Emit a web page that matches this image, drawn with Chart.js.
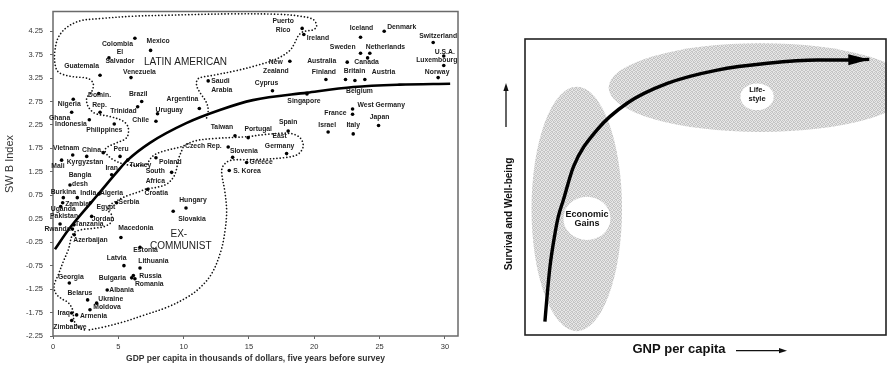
<!DOCTYPE html>
<html>
<head>
<title>Subjective well-being and GDP per capita</title>
<script src="https://cdn.jsdelivr.net/npm/chart.js"></script>
<style>
  body { margin: 0; background: #fff; }
  #left { position: absolute; left: 0; top: 0; width: 470px; height: 365px; }
  #right { position: absolute; left: 470px; top: 0; width: 417px; height: 365px; }
</style>
</head>
<body>
<div id="left"><canvas id="swbChart"></canvas></div>
<div id="right"><canvas id="gnpChart"></canvas></div>
<script>
// ---- left chart: countries (label text), GDP per capita ($1000s), SWB index
const countries = [
  'Colombia', 'Mexico', 'El\nSalvador', 'Guatemala', 'Venezuela', '', 'Domin.\nRep.', 'Nigeria', 'Ghana', 'Indonesia',
  'Brazil', 'Trinidad', 'Uruguay', 'Chile', 'Philippines', 'Argentina', 'Puerto\nRico', 'Ireland', 'New\nZealand', 'Saudi\nArabia',
  'Cyprus', 'Singapore', 'Iceland', 'Denmark', 'Switzerland', 'Sweden', 'Netherlands', 'Canada', 'Australia', 'Finland',
  'Britain', 'Belgium', 'Austria', 'U.S.A.', 'Luxembourg', 'Norway', 'West Germany', 'France', 'Japan', 'Israel',
  'Italy', 'Taiwan', 'Portugal', 'Spain', 'Czech Rep.', 'Slovenia', 'Greece', 'East\nGermany', 'S. Korea', 'Hungary',
  'Slovakia', 'Vietnam', 'Mali', 'Kyrgyzstan', 'China,', 'Peru', 'Turkey', 'Iran', 'Bangla\ndesh', 'Poland',
  'South\nAfrica', 'Croatia', 'Burkina', 'India', 'Algeria', 'Egypt', 'Serbia', 'Zambia', 'Uganda', 'Pakistan',
  'Jordan', 'Tanzania', 'Rwanda', 'Azerbaijan', 'Macedonia', 'Estonia', 'Latvia', 'Lithuania', 'Bulgaria', 'Russia',
  'Romania', 'Georgia', 'Albania', 'Belarus', 'Ukraine', 'Moldova', 'Iraq', 'Armenia', 'Zimbabwe'
];
const gdp = [
  6.27, 7.47, 4.28, 3.60, 5.97, 3.50, 3.60, 1.55, 1.43, 2.78,
  6.79, 6.48, 8.00, 7.88, 4.69, 11.20, 19.07, 19.20, 18.13, 11.88,
  16.80, 19.44, 23.54, 25.35, 29.10, 23.54, 24.25, 24.08, 22.52, 20.89,
  22.39, 23.11, 23.87, 29.91, 29.91, 29.48, 22.93, 22.93, 24.92, 21.06,
  22.98, 13.93, 14.94, 18.00, 13.41, 13.75, 14.82, 17.88, 13.49, 10.18,
  9.20, 1.51, 0.66, 2.58, 3.85, 5.13, 5.71, 4.49, 1.30, 7.88,
  9.08, 7.25, 0.79, 1.86, 3.52, 2.87, 4.87, 0.74, 0.59, 0.54,
  2.96, 1.61, 1.49, 1.63, 5.20, 6.66, 5.43, 6.66, 6.02, 6.15,
  6.27, 1.25, 4.15, 2.65, 3.34, 2.83, 1.43, 1.81, 1.43
];
const swb = [
  4.10, 3.84, 3.68, 3.31, 3.26, 2.92, 2.52, 2.80, 2.52, 2.36,
  2.75, 2.64, 2.49, 2.33, 2.27, 2.60, 4.31, 4.18, 3.61, 3.19,
  2.98, 2.91, 4.12, 4.25, 4.01, 3.78, 3.78, 3.68, 3.59, 3.22,
  3.22, 3.20, 3.22, 3.72, 3.52, 3.26, 2.59, 2.48, 2.24, 2.10,
  2.06, 2.02, 1.98, 2.12, 1.78, 1.56, 1.45, 1.64, 1.28, 0.48,
  0.41, 1.61, 1.50, 1.58, 1.66, 1.58, 1.50, 1.19, 0.97, 1.55,
  1.24, 0.88, 0.70, 0.70, 0.78, 0.59, 0.59, 0.59, 0.51, 0.14,
  0.30, 0.12, 0.03, -0.09, -0.15, -0.36, -0.75, -0.80, -1.01, -0.96,
  -1.03, -1.12, -1.27, -1.48, -1.55, -1.69, -1.76, -1.80, -1.92
];

// fitted curve
const fitX = [0.15, 1.17, 2.9, 3.6, 4.87, 5.71, 7.42, 10.2, 12.77, 15.3, 19.46, 23.0, 26.5, 30.4];
const fitY = [-0.4, 0.01, 0.59, 0.82, 1.24, 1.5, 1.87, 2.29, 2.57, 2.78, 2.94, 3.06, 3.11, 3.13];

// dotted zone boundaries
const zoneAX = [11.76, 11.88, 11.71, 11.30, 10.99, 11.12, 12.26, 14.06, 15.59, 17.12, 18.13, 18.52, 18.77, 19.15, 19.92, 20.18, 19.92, 18.90, 17.37, 13.54,
  8.70, 6.14, 3.60, 2.07, 1.05, 0.41, 0.15, 0.15, 0.41, 1.30, 2.70, 3.08, 2.96, 2.58, 2.70, 3.21, 4.36, 5.38, 5.76, 5.64,
  4.87, 4.11, 3.98, 4.23, 4.74, 5.51, 6.27, 7.17, 7.42, 7.80, 8.57, 9.85, 10.86, 12.26, 14.82, 16.35, 18.13, 18.90, 19.15, 18.77,
  17.88, 16.09, 14.82, 13.54, 13.03, 12.91, 13.16, 13.29, 13.16, 12.85, 12.17, 11.25, 10.23, 8.70, 6.91, 5.38, 3.85, 2.58];
const zoneAY = [2.40, 2.57, 2.75, 2.92, 3.10, 3.24, 3.31, 3.41, 3.52, 3.66, 3.84, 4.01, 4.15, 4.24, 4.28, 4.36, 4.50, 4.57, 4.61, 4.62,
  4.59, 4.57, 4.52, 4.47, 4.33, 4.12, 3.84, 3.56, 3.38, 3.29, 3.24, 3.13, 2.96, 2.82, 2.64, 2.50, 2.43, 2.33, 2.19, 1.98,
  1.87, 1.77, 1.70, 1.59, 1.49, 1.41, 1.39, 1.41, 1.52, 1.62, 1.70, 1.79, 1.91, 1.96, 2.00, 2.05, 2.07, 1.98, 1.80, 1.63,
  1.56, 1.52, 1.51, 1.49, 1.38, 1.24, 0.82, 0.40, -0.02, -0.44, -0.91, -1.22, -1.43, -1.64, -1.81, -1.95, -2.06, -2.13];
const zoneBX = [9.95, 9.56, 9.46, 9.20, 8.70, 7.93, 7.17, 6.53, 5.76, 5.26, 4.74, 4.36, 4.23, 4.49, 4.49, 3.98, 3.21, 2.07, 1.53,
  1.17, 0.79, 0.41, 0.08, 0.23, 0.69, 1.17, 1.53, 1.61, 2.07, 2.58];
const zoneBY = [1.77, 1.49, 1.31, 1.13, 0.99, 0.92, 0.89, 0.82, 0.75, 0.69, 0.61, 0.54, 0.43, 0.33, 0.19, 0.09, 0.05, 0.01, -0.07,
  -0.41, -0.66, -0.94, -1.18, -1.35, -1.46, -1.54, -1.71, -1.92, -2.09, -2.13];

const zoneNames = ['LATIN AMERICAN', 'EX-', 'COMMUNIST'];
const yTicks = [4.25, 3.75, 3.25, 2.75, 2.25, 1.75, 1.25, 0.75, 0.25, -0.25, -0.75, -1.25, -1.75, -2.25];
const xTicks = [0, 5, 10, 15, 20, 25, 30];

// ---- right chart: schematic curve and shaded zones (0-100 units)
const gnpX = [5.5, 6.0, 6.9, 8.3, 9.2, 10.6, 13.4, 19.9, 28.2, 39.3, 53.1, 67.0, 80.8, 90.0, 95.1];
const wellY = [4.5, 11.8, 23.1, 34.4, 40.0, 45.6, 56.9, 69.3, 78.3, 85.0, 89.5, 91.8, 92.9, 92.9, 93.1];
const shadeCx = [14.3, 65.1], shadeCy = [42.6, 83.6], shadeRx = [12.5, 42.0], shadeRy = [41.3, 15.0];
const blobNames = ['Economic\nGains', 'Life-\nstyle'];
const blobCx = [17.1, 64.1], blobCy = [39.4, 80.5], blobRx = [6.5, 4.6], blobRy = [7.3, 4.5];

// label placement: [align, dx, dy] in px from the dot
const labelAt = [
  ['r',-2,6], ['l',-4,-9], ['c',11,-6], ['r',-1,-9], ['l',-8,-6], null, ['c',-0.5,-17], ['c',-4,5], ['r',-1.5,6], ['r',-2.5,4],
  ['c',-3.5,-7], ['r',-1,4], ['l',-2,-3.5], ['r',-7,-1], ['c',-10,6], ['r',-1,-9], ['c',-19,-7.5], ['l',3,4], ['c',-14,1], ['l',3,0],
  ['c',-6,-8], ['c',-3,7], ['c',1,-9], ['l',3,-4], ['c',5,-6], ['r',-5,-6], ['l',-4,-6], ['c',-1,4], ['r',-11,-1], ['c',-2,-7],
  ['c',9,-8], ['c',4.5,10.5], ['l',7,-7], ['c',1,-4], ['c',-7,-5], ['c',-1,-6], ['l',5,-4], ['r',-6,-1], ['c',1,-8], ['c',-1,-7],
  ['c',0,-9], ['c',-13,-9], ['c',10,-9], ['c',0,-9], ['r',-6.5,-1], ['l',-2.7,-6.7], ['l',3,0], ['c',-7,-17], ['l',4,1], ['c',7,-8],
  ['l',5,8], ['l',-19.7,-7], ['c',-3.7,6], ['c',-1.7,6], ['r',-0.5,-3], ['c',1,-7], ['l',2,4.6], ['c',0,-7], ['c',10,-10], ['l',3,4],
  ['r',-6.7,-1], ['c',8.5,4], ['c',0,-6], ['l',3,-5], ['l',1,-1], ['l',6,4], ['l',2,-1], ['l',2.5,1], ['c',2.5,3], ['c',4,-8],
  ['l',0,3], ['l',1,-1], ['r',-2,0], ['l',-1,5], ['l',-2.7,-9], ['l',-6.7,3], ['c',-7.3,-7.6], ['l',-1.7,-7], ['r',-5.7,0], ['l',6,1],
  ['l',0,5], ['c',1.5,-5.6], ['l',2,0], ['c',-7.7,-6.7], ['l',1.6,-4], ['l',3.3,-2.6], ['r',-1.7,0], ['l',3.3,1.4], ['c',-1.7,6.7]
];
const zoneLabelX = [10.14, 9.63, 9.78], zoneLabelY = [3.58, -0.07, -0.34];

const FONT = '"Liberation Sans", Arial, Helvetica, sans-serif';
const ALIGN = { l: 'left', r: 'right', c: 'center' };
const pts = (xs, ys) => xs.map((v, i) => ({ x: v, y: ys[i] }));

const dotted = {
  showLine: true, pointRadius: 0, borderColor: '#111', borderWidth: 1.7,
  borderDash: [0.01, 3.3], borderCapStyle: 'round', tension: 0.35, fill: false
};

const swbDecor = {
  id: 'swbDecor',
  afterDatasetsDraw(chart) {
    const { ctx, chartArea: a, scales: { x, y } } = chart;
    ctx.save();
    ctx.strokeStyle = '#6a6a6a';
    ctx.lineWidth = 1.5;
    ctx.strokeRect(a.left, a.top, a.right - a.left, a.bottom - a.top);

    ctx.fillStyle = '#1c1c1c';
    ctx.font = 'bold 6.8px ' + FONT;
    ctx.textBaseline = 'middle';
    countries.forEach((name, i) => {
      if (!name) return;
      const [al, dx, dy] = labelAt[i];
      ctx.textAlign = ALIGN[al];
      const px = x.getPixelForValue(gdp[i]) + dx;
      const py = y.getPixelForValue(swb[i]) + dy;
      name.split('\n').forEach((line, k) => ctx.fillText(line, px, py + k * 9.3));
    });

    ctx.font = '10px ' + FONT;
    ctx.textAlign = 'center';
    zoneNames.forEach((n, i) => ctx.fillText(n, x.getPixelForValue(zoneLabelX[i]), y.getPixelForValue(zoneLabelY[i])));

    ctx.fillStyle = '#333';
    ctx.font = '11px ' + FONT;
    ctx.translate(10, 164);
    ctx.rotate(-Math.PI / 2);
    ctx.fillText('SW B Index', 0, 0);
    ctx.restore();
  }
};

new Chart(document.getElementById('swbChart'), {
  type: 'scatter',
  data: {
    datasets: [
      { data: pts(fitX, fitY), showLine: true, pointRadius: 0, borderColor: '#000', borderWidth: 2.6,
        cubicInterpolationMode: 'monotone', fill: false },
      { data: pts(zoneAX, zoneAY), ...dotted },
      { data: pts(zoneBX, zoneBY), ...dotted },
      { data: pts(gdp, swb), pointRadius: 1.8, pointBackgroundColor: '#000', pointBorderWidth: 0 }
    ]
  },
  options: {
    responsive: true, maintainAspectRatio: false, animation: false,
    layout: { padding: { left: 0, right: 12, top: 7, bottom: 0 } },
    plugins: { legend: { display: false }, tooltip: { enabled: false } },
    scales: {
      x: {
        type: 'linear', min: 0, max: 31,
        afterBuildTicks: s => { s.ticks = xTicks.map(v => ({ value: v })); },
        afterFit: s => { s.height = 29; },
        grid: { drawOnChartArea: false, tickLength: 3, color: '#666' },
        border: { display: false },
        ticks: { padding: 3, color: '#333', font: { family: FONT, size: 7.5 }, maxRotation: 0 },
        title: { display: true, text: 'GDP per capita in thousands of dollars, five years before survey',
          color: '#333', font: { family: FONT, size: 8.5, weight: 'bold' }, padding: { top: 0, bottom: 1 } }
      },
      y: {
        type: 'linear', min: -2.25, max: 4.67,
        afterBuildTicks: s => { s.ticks = yTicks.map(v => ({ value: v })); },
        afterFit: s => { s.width = 53; },
        grid: { drawOnChartArea: false, tickLength: 3, color: '#666' },
        border: { display: false },
        ticks: { padding: 7, color: '#333', font: { family: FONT, size: 7.5 }, callback: v => v.toFixed(2) }
      }
    }
  },
  plugins: [swbDecor]
});

// ---- right chart
// fine stipple for the shaded zones
const tile = document.createElement('canvas');
tile.width = 4; tile.height = 4;
const tc = tile.getContext('2d');
tc.fillStyle = '#e6e6e6'; tc.fillRect(0, 0, 4, 4);
tc.fillStyle = '#c4c4c4';
[[0, 0], [2, 0], [1, 1], [3, 2], [0, 2], [2, 3], [1, 3], [3, 1]].forEach(([i, j]) => tc.fillRect(i, j, 1, 1));

function ellipse(ctx, x, y, cx, cy, rx, ry) {
  const px = x.getPixelForValue(cx), py = y.getPixelForValue(cy);
  ctx.beginPath();
  ctx.ellipse(px, py, Math.abs(x.getPixelForValue(cx + rx) - px), Math.abs(y.getPixelForValue(cy + ry) - py), 0, 0, Math.PI * 2);
  ctx.fill();
}

function arrow(ctx, x0, y0, x1, y1, len, half) {
  const ang = Math.atan2(y1 - y0, x1 - x0);
  ctx.beginPath();
  ctx.moveTo(x1, y1);
  ctx.lineTo(x1 - len * Math.cos(ang) + half * Math.sin(ang), y1 - len * Math.sin(ang) - half * Math.cos(ang));
  ctx.lineTo(x1 - len * Math.cos(ang) - half * Math.sin(ang), y1 - len * Math.sin(ang) + half * Math.cos(ang));
  ctx.closePath();
  ctx.fill();
}

const gnpDecor = {
  id: 'gnpDecor',
  beforeDatasetsDraw(chart) {
    const { ctx, chartArea: a, scales: { x, y } } = chart;
    ctx.save();
    ctx.beginPath();
    ctx.rect(a.left, a.top, a.right - a.left, a.bottom - a.top);
    ctx.clip();
    ctx.fillStyle = ctx.createPattern(tile, 'repeat');
    shadeCx.forEach((c, i) => ellipse(ctx, x, y, c, shadeCy[i], shadeRx[i], shadeRy[i]));
    ctx.fillStyle = '#fff';
    blobCx.forEach((c, i) => ellipse(ctx, x, y, c, blobCy[i], blobRx[i], blobRy[i]));
    ctx.restore();
  },
  afterDraw(chart) {
    const { ctx, chartArea: a, scales: { x, y } } = chart;
    ctx.save();
    ctx.strokeStyle = '#222';
    ctx.lineWidth = 1.6;
    ctx.strokeRect(a.left, a.top, a.right - a.left - 1, a.bottom - a.top);

    // arrowhead on the curve
    const n = gnpX.length;
    ctx.fillStyle = '#000';
    arrow(ctx, x.getPixelForValue(gnpX[n - 3]), y.getPixelForValue(wellY[n - 3]),
      x.getPixelForValue(gnpX[n - 1]), y.getPixelForValue(wellY[n - 1]), 21, 5.5);

    // zone labels
    ctx.fillStyle = '#111';
    ctx.textAlign = 'center';
    ctx.textBaseline = 'middle';
    const blobFont = [9, 7.5], blobDy = [-3.5, -7];
    blobNames.forEach((t, i) => {
      ctx.font = 'bold ' + blobFont[i] + 'px ' + FONT;
      const px = x.getPixelForValue(blobCx[i]), py = y.getPixelForValue(blobCy[i]) + blobDy[i];
      t.split('\n').forEach((line, k) => ctx.fillText(line, px, py + k * 9));
    });

    // axis titles with arrows
    ctx.fillStyle = '#111';
    ctx.font = 'bold 13px ' + FONT;
    ctx.fillText('GNP per capita', 209, 349.5);
    ctx.strokeStyle = '#111';
    ctx.lineWidth = 1.3;
    ctx.beginPath(); ctx.moveTo(266, 350.7); ctx.lineTo(312, 350.7); ctx.stroke();
    arrow(ctx, 266, 350.7, 317, 350.7, 8, 2.6);

    ctx.beginPath(); ctx.moveTo(36, 127); ctx.lineTo(36, 88); ctx.stroke();
    arrow(ctx, 36, 127, 36, 83, 8, 2.6);
    ctx.translate(39, 214);
    ctx.rotate(-Math.PI / 2);
    ctx.font = 'bold 10px ' + FONT;
    ctx.fillText('Survival and Well-being', 0, 0);
    ctx.restore();
  }
};

new Chart(document.getElementById('gnpChart'), {
  type: 'scatter',
  data: {
    datasets: [
      { data: pts(gnpX, wellY), showLine: true, pointRadius: 0, borderColor: '#000', borderWidth: 3.4,
        cubicInterpolationMode: 'monotone', fill: false }
    ]
  },
  options: {
    responsive: true, maintainAspectRatio: false, animation: false,
    layout: { padding: { left: 55, right: 0, top: 39, bottom: 30 } },
    plugins: { legend: { display: false }, tooltip: { enabled: false } },
    scales: {
      x: { type: 'linear', min: 0, max: 100, display: false },
      y: { type: 'linear', min: 0, max: 100, display: false }
    }
  },
  plugins: [gnpDecor]
});
</script>
</body>
</html>
